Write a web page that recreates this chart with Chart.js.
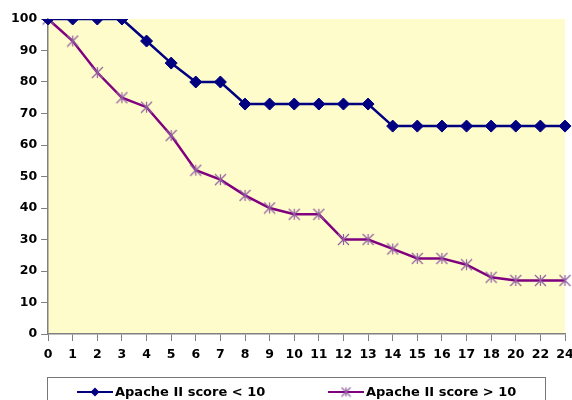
<!DOCTYPE html>
<html lang="en">
  <head>
    <meta charset="UTF-8" />
    <title>Apache II</title>
    <style>
      html, body { margin: 0; padding: 0; background: #fff; }
      #wrap { width: 572px; height: 400px; }
    </style>
  </head>
  <body>
    <div id="wrap"><canvas id="survChart"></canvas></div>
    <script src="https://cdn.jsdelivr.net/npm/chart.js"></script>
    <script>
      // hours (x categories) and survival % of each group
      const hours = ["0", "1", "2", "3", "4", "5", "6", "7", "8", "9", "10", "11", "12", "13", "14", "15", "16", "17", "18", "20", "22", "24"];
      const scoreLow = [100, 100, 100, 100, 93, 86, 80, 80, 73, 73, 73, 73, 73, 73, 66, 66, 66, 66, 66, 66, 66, 66];
      const scoreHigh = [100, 93, 83, 75, 72, 63, 52, 49, 44, 40, 38, 38, 30, 30, 27, 24, 24, 22, 18, 17, 17, 17];
      const seriesNames = ["Apache II score < 10", "Apache II score > 10"];

      const NAVY = "#000080";
      const PURPLE = "#800080";
      const STAR = "#9060a0";
      const FAMILY = "'DejaVu Sans', Verdana, sans-serif";

      // excel-like star: X with a vertical bar
      function starImg(size) {
        const c = document.createElement("canvas");
        c.width = c.height = size;
        const g = c.getContext("2d");
        const m = size / 2, r = size / 2 - 1;
        g.strokeStyle = STAR;
        g.lineWidth = 1.2;
        g.beginPath();
        g.moveTo(m - r, m - r); g.lineTo(m + r, m + r);
        g.moveTo(m + r, m - r); g.lineTo(m - r, m + r);
        g.moveTo(m, m - r); g.lineTo(m, m + r);
        g.stroke();
        return c;
      }

      const plotBg = {
        id: "plotBg",
        beforeDraw(chart) {
          const a = chart.chartArea, ctx = chart.ctx;
          ctx.save();
          ctx.fillStyle = "#FFFCCB";
          ctx.fillRect(a.left, a.top, a.right - a.left, a.bottom - a.top);
          ctx.restore();
        },
      };

      // boxed legend under the axis, line sample + marker + name
      const boxLegend = {
        id: "boxLegend",
        afterDraw(chart) {
          const ctx = chart.ctx;
          const y = 392;
          const items = [
            { x: 77, color: NAVY, marker: "diamond" },
            { x: 328, color: PURPLE, marker: "star" },
          ];
          ctx.save();
          ctx.strokeStyle = "#777";
          ctx.lineWidth = 1;
          ctx.strokeRect(47.5, 377.5, 498, 30);
          items.forEach((it, i) => {
            const ds = chart.data.datasets[i];
            ctx.strokeStyle = it.color;
            ctx.lineWidth = 2.2;
            ctx.beginPath();
            ctx.moveTo(it.x, y);
            ctx.lineTo(it.x + 36, y);
            ctx.stroke();
            const mx = it.x + 18;
            if (it.marker === "diamond") {
              ctx.fillStyle = it.color;
              ctx.beginPath();
              ctx.moveTo(mx, y - 4.5); ctx.lineTo(mx + 4.5, y); ctx.lineTo(mx, y + 4.5); ctx.lineTo(mx - 4.5, y);
              ctx.closePath();
              ctx.fill();
            } else {
              ctx.drawImage(starImg(11), mx - 5.5, y - 5.5);
            }
            ctx.fillStyle = "#000";
            ctx.font = "bold 13px " + FAMILY;
            ctx.textBaseline = "middle";
            ctx.fillText(ds.label, it.x + 38, y + 0.5);
          });
          ctx.restore();
        },
      };

      const font = { family: FAMILY, size: 12.5, weight: "bold" };

      new Chart(document.getElementById("survChart"), {
        type: "line",
        data: {
          labels: hours,
          datasets: [
            {
              label: seriesNames[0],
              data: scoreLow,
              borderColor: NAVY,
              backgroundColor: NAVY,
              borderWidth: 2.5,
              pointStyle: "rectRot",
              pointRadius: 6,
              pointBorderWidth: 1,
              tension: 0,
            },
            {
              label: seriesNames[1],
              data: scoreHigh,
              borderColor: PURPLE,
              backgroundColor: PURPLE,
              borderWidth: 2.5,
              pointStyle: starImg(13),
              tension: 0,
            },
          ],
        },
        options: {
          responsive: true,
          maintainAspectRatio: false,
          animation: false,
          layout: { padding: { top: 19, right: 7, left: 7, bottom: 32 } },
          scales: {
            x: {
              offset: false,
              afterFit(scale) {
                scale.paddingRight = 0;
              },
              grid: { drawOnChartArea: false, tickLength: 7, tickColor: "#808080" },
              border: { color: "#808080", width: 1.5 },
              ticks: { font: font, color: "#000", maxRotation: 0, autoSkip: false, padding: 6 },
            },
            y: {
              min: 0,
              max: 100,
              grid: { drawOnChartArea: false, tickLength: 7, tickColor: "#808080" },
              border: { color: "#808080", width: 1.5 },
              ticks: { stepSize: 10, font: font, color: "#000", padding: 4 },
            },
          },
          plugins: {
            legend: { display: false },
            tooltip: { enabled: false },
          },
        },
        plugins: [plotBg, boxLegend],
      });
    </script>
  </body>
</html>
